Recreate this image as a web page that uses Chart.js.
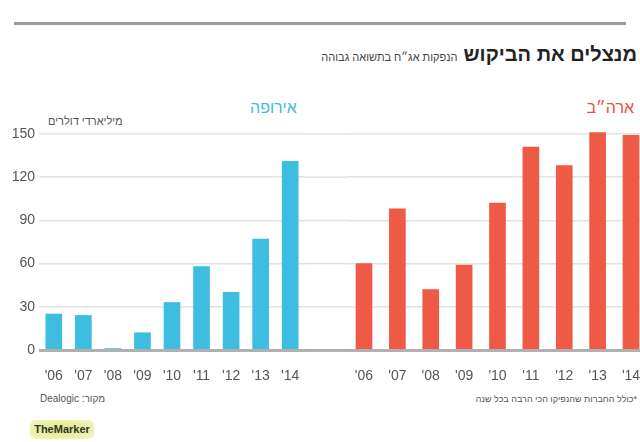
<!DOCTYPE html>
<html lang="he">
<head>
<meta charset="utf-8">
<script src="https://cdn.jsdelivr.net/npm/chart.js@4/dist/chart.umd.min.js"></script>
<style>
  html, body { margin: 0; padding: 0; background: #fff; }
  body { width: 640px; height: 442px; position: relative; overflow: hidden;
         font-family: "Liberation Sans", "DejaVu Sans", sans-serif; }
  .abs { position: absolute; white-space: nowrap; }
  .rtl { direction: rtl; }
  #topline { left: 14px; top: 22px; width: 612px; height: 3px; background: #9a9a9a; }
  #head { right: 3px; top: 43px; display: flex; align-items: baseline; gap: 6px; }
  #title { font-size: 20px; font-weight: bold; color: #222; }
  #subtitle { font-size: 11px; color: #444; }
  #lblEu { left: 250px; top: 99px; font-size: 16px; color: #3bbcdc; }
  #lblUs { right: 6px; top: 99px; font-size: 16px; color: #e8533f; }
  #unit { left: 48px; top: 115px; font-size: 11px; color: #555; }
  #source { left: 40px; top: 393px; font-size: 10px; color: #555; }
  #note { right: 3px; top: 394px; font-size: 9px; color: #555; }
  #logo { left: 30px; top: 420px; width: 64px; height: 19px; border-radius: 5px;
          background: radial-gradient(ellipse at center, #dfe97a 0%, #eef3b8 80%, #f7f9dc 100%);
          font-size: 11px; font-weight: bold; color: #333; line-height: 19px; text-align: center; }
  #boxEu { left: 0; top: 120px; width: 345px; height: 270px; }
  #boxUs { left: 345px; top: 120px; width: 305px; height: 270px; }
</style>
</head>
<body>
<div class="abs" id="topline"></div>
<div class="abs rtl" id="head">
  <span id="title">מנצלים את הביקוש</span>
  <span id="subtitle">הנפקות אג״ח בתשואה גבוהה</span>
</div>
<div class="abs rtl" id="lblEu">אירופה</div>
<div class="abs rtl" id="lblUs">ארה״ב</div>
<div class="abs rtl" id="unit">מיליארדי דולרים</div>

<div class="abs" id="boxEu"><canvas id="chartEu"></canvas></div>
<div class="abs" id="boxUs"><canvas id="chartUs"></canvas></div>

<div class="abs rtl" id="source">מקור: Dealogic</div>
<div class="abs rtl" id="note">*כולל החברות שהנפיקו הכי הרבה בכל שנה</div>
<div class="abs" id="logo">TheMarker</div>

<script>
const years = ["'06", "'07", "'08", "'09", "'10", "'11", "'12", "'13", "'14"];
const europe = [25, 24, 1, 12, 33, 58, 40, 77, 131];
const usa = [60, 98, 42, 59, 102, 141, 128, 151, 149];
const yTicks = [0, 30, 60, 90, 120, 150];

const FONT = '"Liberation Sans", "DejaVu Sans", sans-serif';
const GRID = '#e2e2e2';
const BASE = '#b0b0b0';

// extends the gridlines outside the chart area so the two panels join up,
// then lays the grey zero line over the whole width
const gridAcross = {
  id: 'gridAcross',
  beforeDatasetsDraw(chart, args, opts) {
    const { ctx, chartArea, scales } = chart;
    const x0 = opts.first ? chartArea.right - 1 : 0;
    const x1 = opts.first ? chart.width : chartArea.left + 1;
    ctx.save();
    ctx.strokeStyle = GRID;
    ctx.lineWidth = 1.5;
    yTicks.forEach(v => {
      if (v === 0) return;
      const y = scales.y.getPixelForValue(v);
      ctx.beginPath();
      ctx.moveTo(x0, y);
      ctx.lineTo(x1, y);
      ctx.stroke();
    });
    ctx.restore();
  },
  afterDatasetsDraw(chart, args, opts) {
    const { ctx, chartArea, scales } = chart;
    const x0 = opts.first ? chartArea.left : 0;
    const y = scales.y.getPixelForValue(0) + 0.5;
    ctx.save();
    ctx.strokeStyle = BASE;
    ctx.lineWidth = 3;
    ctx.beginPath();
    ctx.moveTo(x0, y);
    ctx.lineTo(chart.width, y);
    ctx.stroke();
    ctx.restore();
  }
};

function makeChart(id, values, color, first, padRight) {
  const ctx = document.getElementById(id);
  return new Chart(ctx, {
    type: 'bar',
    data: {
      labels: years,
      datasets: [{
        data: values,
        backgroundColor: color,
        barThickness: 16,
        clip: false
      }]
    },
    options: {
      responsive: true,
      maintainAspectRatio: false,
      animation: false,
      layout: { padding: { top: 14, left: 0, right: padRight, bottom: 0 } },
      plugins: {
        legend: { display: false },
        tooltip: { enabled: false },
        gridAcross: { first: first }
      },
      scales: {
        x: {
          grid: { display: false },
          border: { display: false },
          ticks: { color: '#555', font: { family: FONT, size: 14 }, padding: 10, maxRotation: 0 },
          afterFit: (axis) => { axis.height = 40; }
        },
        y: {
          min: 0,
          max: 150,
          afterBuildTicks: (axis) => { axis.ticks = yTicks.map(v => ({ value: v })); },
          grid: { color: GRID, lineWidth: 1.5, drawTicks: false },
          border: { display: false },
          ticks: {
            display: first,
            color: '#555',
            font: { family: FONT, size: 14 },
            padding: 4
          },
          afterFit: (axis) => { axis.width = first ? 39 : 0; }
        }
      }
    },
    plugins: [gridAcross]
  });
}

makeChart('chartEu', europe, '#3dbde0', true, 40);
makeChart('chartUs', usa, '#ee5a45', false, 0);
</script>
</body>
</html>
